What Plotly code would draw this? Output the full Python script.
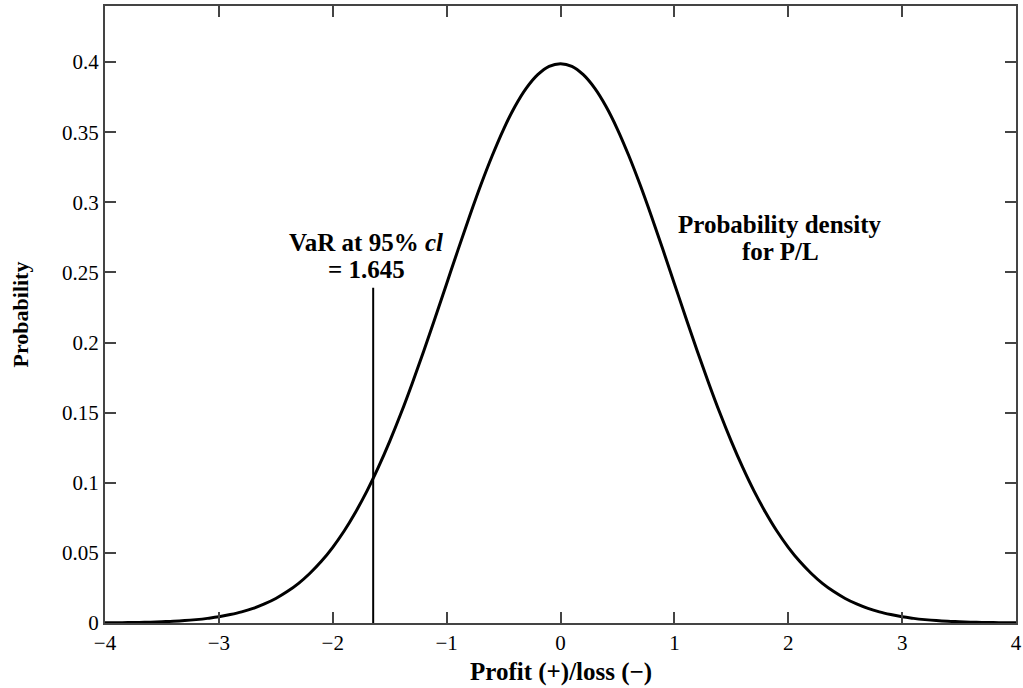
import plotly.graph_objects as go

# values (P/L density)
pl = [-4.0, -3.9, -3.8, -3.7, -3.6, -3.5, -3.4, -3.3, -3.2, -3.1, -3.0, -2.9, -2.8, -2.7, -2.6, -2.5, -2.4,
      -2.3, -2.2, -2.1, -2.0, -1.9, -1.8, -1.7, -1.6, -1.5, -1.4, -1.3, -1.2, -1.1, -1.0, -0.9, -0.8, -0.7,
      -0.6, -0.5, -0.4, -0.3, -0.2, -0.1, 0.0, 0.1, 0.2, 0.3, 0.4, 0.5, 0.6, 0.7, 0.8, 0.9, 1.0, 1.1, 1.2,
      1.3, 1.4, 1.5, 1.6, 1.7, 1.8, 1.9, 2.0, 2.1, 2.2, 2.3, 2.4, 2.5, 2.6, 2.7, 2.8, 2.9, 3.0, 3.1, 3.2,
      3.3, 3.4, 3.5, 3.6, 3.7, 3.8, 3.9, 4.0]
density = [0.0001, 0.0002, 0.0003, 0.0004, 0.0006, 0.0009, 0.0012, 0.0017, 0.0024, 0.0033, 0.0044,
           0.0060, 0.0079, 0.0104, 0.0136, 0.0175, 0.0224, 0.0283, 0.0355, 0.0440, 0.0540, 0.0656,
           0.0790, 0.0940, 0.1109, 0.1295, 0.1497, 0.1714, 0.1942, 0.2179, 0.2420, 0.2661, 0.2897,
           0.3123, 0.3332, 0.3521, 0.3683, 0.3814, 0.3910, 0.3970, 0.3989, 0.3970, 0.3910, 0.3814,
           0.3683, 0.3521, 0.3332, 0.3123, 0.2897, 0.2661, 0.2420, 0.2179, 0.1942, 0.1714, 0.1497,
           0.1295, 0.1109, 0.0940, 0.0790, 0.0656, 0.0540, 0.0440, 0.0355, 0.0283, 0.0224, 0.0175,
           0.0136, 0.0104, 0.0079, 0.0060, 0.0044, 0.0033, 0.0024, 0.0017, 0.0012, 0.0009, 0.0006,
           0.0004, 0.0003, 0.0002, 0.0001]
var_x = [-1.645, -1.645]
var_y = [0, 0.239]
x_ticks = [-4, -3, -2, -1, 0, 1, 2, 3, 4]
y_ticks = [0, 0.05, 0.1, 0.15, 0.2, 0.25, 0.3, 0.35, 0.4]

serif = "Liberation Serif, Times New Roman, serif"
black = "black"

fig = go.Figure()
fig.add_trace(go.Scatter(x=pl, y=density, mode="lines", line=dict(color=black, width=3, shape="spline"),
                         showlegend=False))
fig.add_trace(go.Scatter(x=var_x, y=var_y, mode="lines", line=dict(color=black, width=2),
                         showlegend=False))

# text labels, one annotation per line to keep the tight line spacing
labels = [
    (-1.705, 0.271, "<b>VaR at 95% <i>cl</i></b>"),
    (-1.705, 0.252, "<b>= 1.645</b>"),
    (1.93, 0.284, "<b>Probability density</b>"),
    (1.93, 0.265, "<b>for P/L</b>"),
]
for lx, ly, txt in labels:
    fig.add_annotation(x=lx, y=ly, text=txt, showarrow=False, yanchor="middle",
                       font=dict(family=serif, size=25, color=black))

# axis titles
fig.add_annotation(xref="paper", yref="paper", x=0.5, y=0, yshift=-49, text="<b>Profit (+)/loss (−)</b>",
                   showarrow=False, yanchor="middle", font=dict(family=serif, size=25, color=black))
fig.add_annotation(xref="paper", yref="paper", x=0, y=0.5, xshift=-85, text="<b>Probability</b>",
                   textangle=-90, showarrow=False, xanchor="center",
                   font=dict(family=serif, size=22, color=black))

axis_common = dict(showline=True, linecolor="#444", linewidth=2, mirror="ticks", ticks="inside",
                   ticklen=11, tickcolor="#444", tickwidth=2, showgrid=False, zeroline=False,
                   automargin=False, tickfont=dict(family=serif, size=21, color=black))

fig.update_xaxes(range=[-4, 4], tickvals=x_ticks, **axis_common)
fig.update_yaxes(range=[0, 0.44], tickvals=y_ticks, **axis_common)

fig.update_layout(width=1023, height=688, margin=dict(l=105, r=7, t=6, b=65),
                  plot_bgcolor="white", paper_bgcolor="white")

fig.write_html("out.html", config={"displayModeBar": False},
               post_script="document.body.style.margin='0';")
